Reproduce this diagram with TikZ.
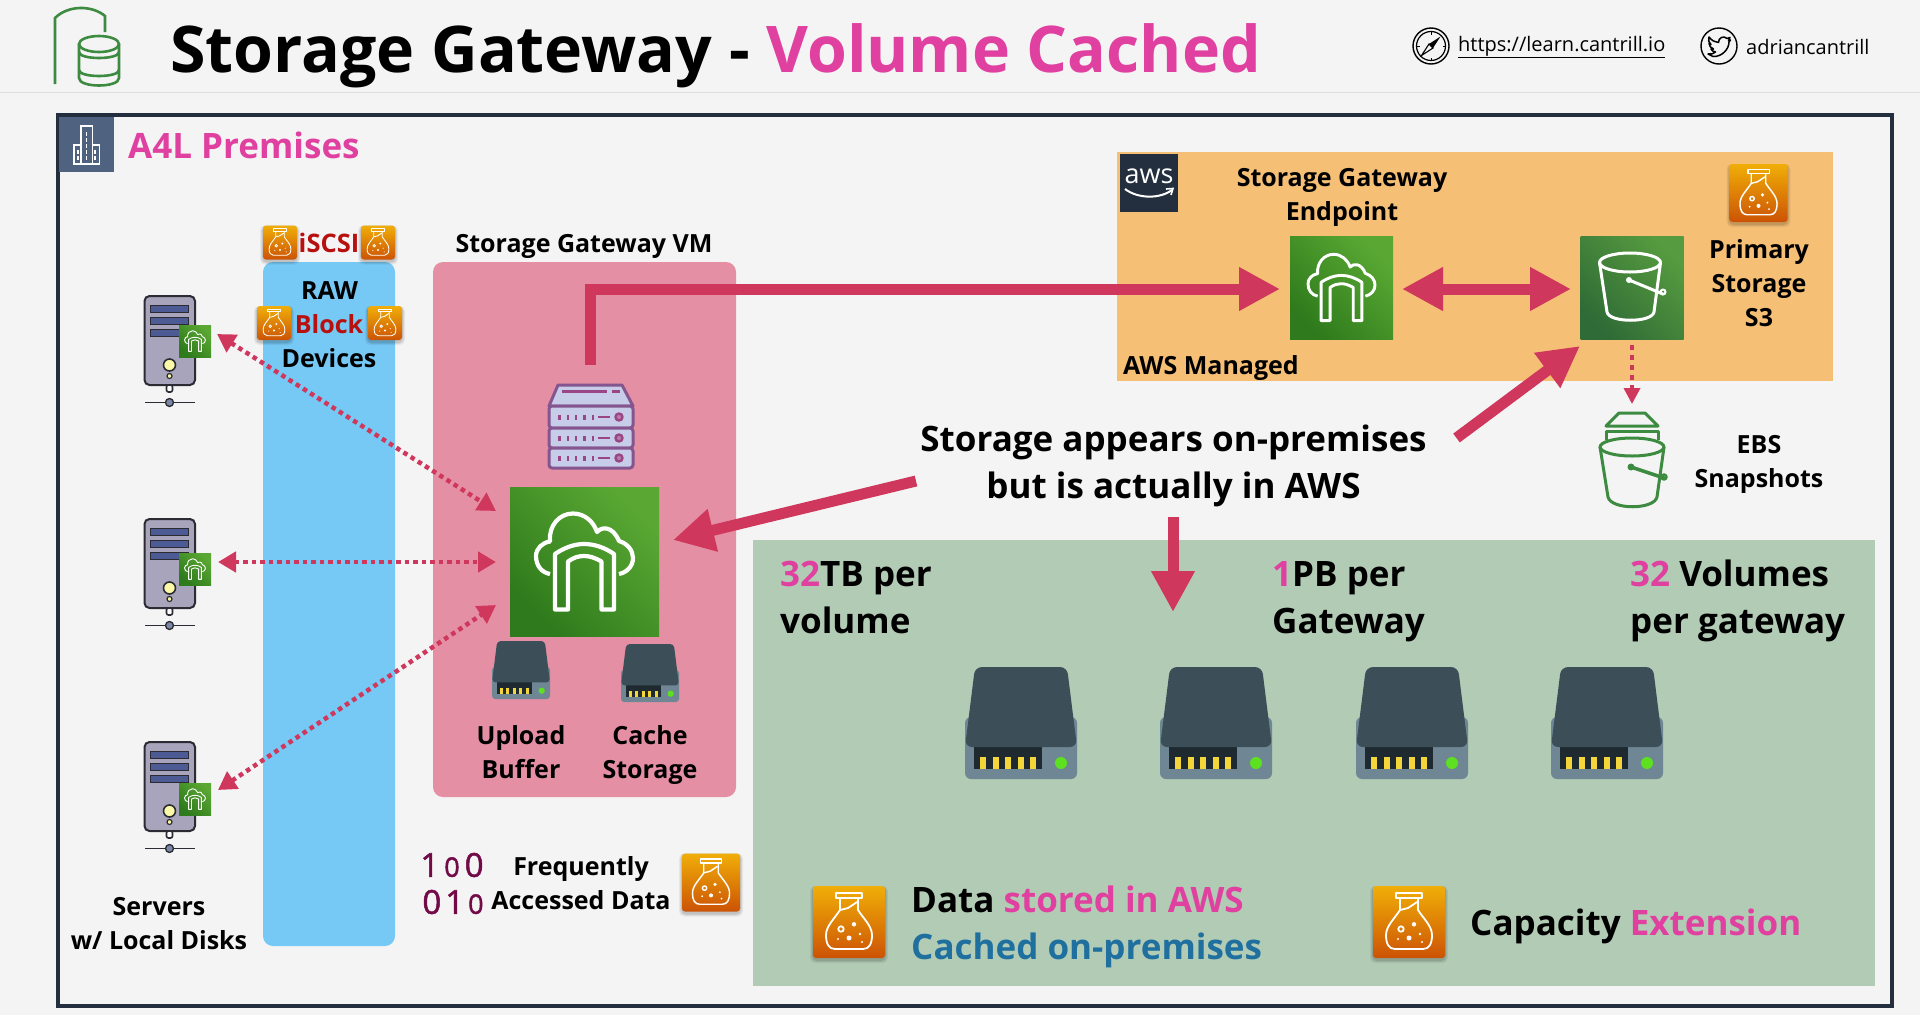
\documentclass[tikz,border=0pt]{standalone}
\usepackage{fontspec}
\setmainfont{Open Sans}
\newfontfamily\binfont[FakeBold=1.6]{Open Sans}
\usetikzlibrary{arrows.meta}
\definecolor{bgc}{HTML}{F4F4F4}
\definecolor{bldg}{HTML}{4F6380}
\definecolor{apink}{HTML}{E0409F}
\definecolor{ared}{HTML}{D0375C}
\definecolor{navy}{HTML}{232F3E}
\definecolor{ablue}{HTML}{76C8F5}
\definecolor{vmpink}{HTML}{E48FA4}
\definecolor{aorange}{HTML}{F5BF76}
\definecolor{sage}{HTML}{B2CBB5}
\definecolor{dred}{HTML}{B80F0F}
\definecolor{teal2}{HTML}{1F6F9F}
\definecolor{binc}{HTML}{730A48}
\definecolor{iconG}{HTML}{3D8B40}
\definecolor{purp}{HTML}{85558F}
\definecolor{purf}{HTML}{C7CDE9}
\definecolor{purl}{HTML}{9A4585}
\definecolor{dk}{HTML}{2B2B33}
\newcommand\pk[1]{\textcolor{apink}{#1}}
\newcommand\fsz[2]{\fontsize{#1}{#2}\selectfont}
\tikzset{
  panel/.style={inner sep=0pt,outer sep=0pt,anchor=north west},
  lbl/.style={font=\fsz{25}{34}\bfseries,align=center,inner sep=0pt,text=black},
  biglbl/.style={font=\fsz{35}{47}\bfseries,align=left,inner sep=0pt,text=black},
  heavy/.style={line width=11pt,color=ared,-{Triangle[length=41pt,width=41pt]}},
  heavytwo/.style={line width=11pt,color=ared,{Triangle[length=41pt,width=41pt]}-{Triangle[length=41pt,width=41pt]}},
  dots/.style={line width=4.5pt,color=ared,dash pattern=on 4.5pt off 4pt,{Triangle[length=18pt,width=20pt]}-{Triangle[length=18pt,width=20pt]}},
  dotone/.style={line width=3.5pt,color=ared,dash pattern=on 5pt off 5pt,-{Triangle[length=16pt,width=16pt]}},
  flasktile/.style={inner sep=0pt,outer sep=0pt,rounded corners=3pt,top color=FT,bottom color=FB},
  gwtile/.style={inner sep=0pt,outer sep=0pt,left color=GD,right color=GL,shading angle=135},
}
\definecolor{FT}{HTML}{F0AE08}
\definecolor{FB}{HTML}{CC5305}
\definecolor{GD}{HTML}{2E7A1C}
\definecolor{GL}{HTML}{5AA833}
\definecolor{SD}{HTML}{2F6B36}
\definecolor{SL}{HTML}{569B3F}
% flask tile: name,x,y,size
\newcommand\flaskicon[4]{%
  \pgfmathsetmacro\fk{#4/72}%
  \foreach \e/\o in {3/.05,2/.07,1/.09}{%
    \fill[black,opacity=\o,rounded corners=5pt] ({#2-#4/2-\e},{#3-#4/2}) rectangle ({#2+#4/2+\e},{#3+#4/2+\e+2});}
  \node[flasktile,minimum size=#4] (#1) at (#2,#3) {};
  \begin{scope}[shift={(#2,#3)},scale=\fk,line width=\fk*1.8pt,draw=white,fill=white,line join=round]
    \draw (-13.3,-29) rectangle (13.3,-24);
    \draw (-9,-24) -- (-9,-12) .. controls (-14,-4) and (-23,4) .. (-23,13) .. controls (-23,22) and (-20,27) .. (-14,27) -- (14,27) .. controls (20,27) and (23,22) .. (23,13) .. controls (23,4) and (14,-4) .. (9,-12) -- (9,-24);
    \draw (-9,-12) -- (-1,-14) -- (8,-20);
    \draw (-8,7) circle [radius=2.7];
    \fill (5,2.3) circle [radius=2.2];
    \fill (0,16) circle [radius=2.5];
    \fill (11,12) circle [radius=1.3];
    \fill (-11,17) circle [radius=1.2];
    \fill (13,20) circle [radius=1.2];
  \end{scope}}
% gateway tile: name,x,y,size
\newcommand\gwicon[4]{%
  \pgfmathsetmacro\gk{#4/149}%
  \node[gwtile,minimum size=#4] (#1) at (#2,#3) {};
  \begin{scope}[shift={(#2,#3)},scale=\gk,line width=\gk*4.2pt,draw=white,line join=round]
    \draw (-34.5,12.5) .. controls (-43,11) and (-48.5,4) .. (-48.5,-5.5) .. controls (-48.5,-13) and (-42,-19) .. (-34.5,-20)
      .. controls (-36,-36) and (-25,-48) .. (-11.5,-48) .. controls (0,-48) and (9,-40) .. (12.5,-29.5)
      .. controls (17,-35) and (28,-36) .. (34.5,-20.5) .. controls (43,-18) and (48.5,-11) .. (48.5,-3.5) .. controls (48.5,5) and (42,11) .. (34.5,12.5);
    \draw (-29.5,48) -- (-29.5,-7.5) .. controls (-20,-14) and (-10,-17.5) .. (-0.5,-17.5) .. controls (10,-17.5) and (20,-14) .. (29.5,-7.5) -- (29.5,48) -- (17,48) -- (17,0) .. controls (10,-4) and (5,-5.5) .. (-0.5,-5.5) .. controls (-6,-5.5) and (-11,-4) .. (-16.5,0) -- (-16.5,48) -- cycle;
  \end{scope}}
% disk: x0,y0,size
\newcommand\diskicon[3]{%
  \pgfmathsetmacro\dkk{#3/112}%
  \begin{scope}[shift={(#1,#2)},scale=\dkk]
    \fill[color=diskbase,rounded corners=\dkk*6pt] (0,50) rectangle (112,112);
    \fill[color=diskslot] (9,75) rectangle (77,102);
    \fill[color=disktop,rounded corners=\dkk*7pt] (10,0) -- (102,0) -- (112,80) -- (0,80) -- cycle;
    \foreach \p in {15,27.5,40,52.5,65}{\fill[color=diskpin] (\p,90) rectangle ({\p+6},102);}
    \fill[color=diskled] (96,96) circle [radius=6];
  \end{scope}}
\definecolor{diskbase}{HTML}{6F8694}
\definecolor{diskslot}{HTML}{1F2A30}
\definecolor{disktop}{HTML}{3C4F58}
\definecolor{diskpin}{HTML}{F5D63A}
\definecolor{diskled}{HTML}{5DE01F}
% server: top y, badge centre y
\newcommand\servericon[3]{%
  \begin{scope}[shift={(0,#2)},draw=dk]
    \draw[line width=2pt,fill=srvbody,rounded corners=5pt] (144.5,0) rectangle (195,89);
    \foreach \b in {9,21,33}{\draw[line width=1pt,fill=srvbar] (150,\b) rectangle (188,{\b+7});}
    \draw[line width=1.6pt,fill=srvled] (169.5,69) circle [radius=6];
    \draw[line width=1.2pt,fill=srvled] (169.5,80) circle [radius=2.5];
    \draw[line width=1.6pt,fill=white,rounded corners=2pt] (166.5,89) rectangle (172.5,96);
    \draw[line width=1pt] (145,106.5) -- (195,106.5);
    \draw[line width=1.3pt,fill=srvdot] (169.5,106.5) circle [radius=4];
  \end{scope}
  \gwicon{#1}{195}{#3}{32}}
\definecolor{srvbody}{HTML}{A8A4BB}
\definecolor{srvbar}{HTML}{4D5B94}
\definecolor{srvled}{HTML}{FBF8A8}
\definecolor{srvdot}{HTML}{7C86A6}
\begin{document}
\begin{tikzpicture}[x=1pt,y=-1pt]
\useasboundingbox (0,0) rectangle (1920,1015);
\fill[bgc] (0,0) rectangle (1920,1015);
\draw[color=black!13,line width=1pt] (0,92.5) -- (1920,92.5);
% header icon
\begin{scope}[draw=iconG,line width=2.6pt]
  \draw (55,84) -- (55,18) .. controls (68,5) and (92,5) .. (105,16) -- (105,32);
  \draw (79,44) -- (79,78) .. controls (79,88) and (119,88) .. (119,78) -- (119,44);
  \draw (99,44) ellipse [x radius=20,y radius=8];
  \draw (79,52) .. controls (79,60) and (119,60) .. (119,52);
  \draw (79,70) .. controls (79,78) and (119,78) .. (119,70);
\end{scope}
\node[anchor=base west,inner sep=0pt,font=\fsz{64.4}{70}\bfseries] (title) at (170,72) {Storage Gateway - \pk{Volume Cached}};
% compass
\begin{scope}[shift={(1431,46)},draw=black]
  \draw[line width=1.4pt] (0,0) circle [radius=18];
  \draw[line width=1.2pt] (0,0) circle [radius=14.5];
  \fill[black] (9.5,-9.5) -- (2,2) -- (-2,-2) -- cycle;
  \draw[line width=1.1pt,fill=bgc] (-9.5,9.5) -- (2,2) -- (-2,-2) -- cycle;
  \foreach \a/\b/\c/\d in {0/-14/0/-11.5,0/14/0/11.5,-14/0/-11.5/0,14/0/11.5/0}{\draw[line width=1pt] (\a,\b) -- (\c,\d);}
\end{scope}
\node[anchor=west,inner sep=0pt,font=\fsz{20}{24}] (url) at (1458,47) {\underline{https://learn.cantrill.io}};
\begin{scope}[shift={(1719,46)},draw=black]
  \draw[line width=1.4pt] (0,0) circle [radius=18];
  \draw[line width=1.5pt,line join=round] (-10,-9) .. controls (-7,-5) and (-4,-4) .. (-0.5,-3.5) .. controls (-1,-8) and (5,-11) .. (8,-7.5) -- (11,-8.5) -- (9.5,-5.5) -- (11.5,-6) -- (10,-4) .. controls (10,3) and (3,11) .. (-6,10.5) -- (-11,8) .. controls (-8,8.5) and (-5,7.5) .. (-3.5,6) .. controls (-6,5.5) and (-7.5,4.5) .. (-8,3) -- (-5.5,3) .. controls (-8,2) and (-10,0) .. (-10,-2.5) -- (-8,-1.5) .. controls (-10.5,-3.5) and (-11,-6) .. (-10,-9) -- cycle;
\end{scope}
\node[anchor=west,inner sep=0pt,font=\fsz{20}{24}] (handle) at (1746,47) {adriancantrill};
% premises frame
\node[panel,draw=navy,line width=4pt,minimum width=1834.5,minimum height=891.5] (prem) at (57.5,114.5) {};
\node[panel,fill=bldg,minimum size=55] (bldgtile) at (59,117) {};
\begin{scope}[draw=white,line width=1.5pt]
  \draw (74,164) rectangle (99.3,145);
  \draw[fill=bldg] (81,164) -- (81,126) -- (92.3,126) -- (92.3,164);
  \draw (74,164) -- (99.3,164);
  \foreach \wx/\wy in {78/150,86.7/132,95/150}{\draw[line width=1.2pt,dash pattern=on 3.5pt off 2.5pt] (\wx,\wy) -- (\wx,161);}
\end{scope}
\node[anchor=west,inner sep=0pt,font=\fsz{35}{40}\bfseries,text=apink] (a4l) at (128,145) {A4L Premises};
% panels
\node[panel,fill=ablue,rounded corners=10pt,minimum width=132,minimum height=684] (blue) at (263,262) {};
\node[panel,fill=vmpink,rounded corners=10pt,minimum width=303,minimum height=535] (vm) at (433,262) {};
\node[panel,fill=aorange,minimum width=716,minimum height=229] (aws) at (1117,152) {};
\node[panel,fill=sage,minimum width=1122,minimum height=446] (sagebox) at (753,540) {};
% iSCSI
\flaskicon{fa}{280}{242.5}{34}
\flaskicon{fb}{378}{242.5}{34}
\node[lbl,font=\fsz{25.5}{34}\bfseries,text=dred] (iscsi) at (329,243) {iSCSI};
\node[lbl] (raw) at (329.5,290.5) {RAW};
\node[lbl,text=dred] (block) at (329,324) {Block};
\node[lbl] (dev) at (329,358) {Devices};
\flaskicon{fc}{274}{323}{34}
\flaskicon{fd}{385}{323}{34}
\node[lbl] (vmlbl) at (584,246.5) {Storage Gateway VM};
% servers
\servericon{b1}{296}{341}
\servericon{b2}{519}{569}
\servericon{b3}{742}{799}
\node[lbl] (srvl) at (159,924) {Servers\\w/ Local Disks};
% VM contents
\begin{scope}[draw=purp,line width=3pt,line join=round]
  \draw[fill=purf] (549,406) -- (558,385) -- (622,385) -- (633,406) -- cycle;
  \foreach \u/\v in {406/428,428/448,448/468}{
    \draw[fill=purf,rounded corners=3pt] (549,\u) rectangle (633,\v);
    \foreach \t in {559.3,567.7,576,584.3,592.7}{\draw[color=purl,line width=2.4pt] (\t,{(\u+\v)/2-2.5}) -- (\t,{(\u+\v)/2+2.5});}
    \draw[color=purl,line width=2.4pt] (597.7,{(\u+\v)/2}) -- (610,{(\u+\v)/2});
    \draw[color=purl,line width=2.4pt,fill=purl!70!white] (619,{(\u+\v)/2}) circle [radius=3.5];
  }
  \draw[color=purl,line width=2.4pt] (561.7,391.5) -- (606.7,391.5) (611.7,391.5) -- (620,391.5);
\end{scope}
\gwicon{gw}{584.5}{561.5}{149}
\diskicon{492}{641}{58}
\diskicon{621}{644}{58}
\node[lbl] (ub) at (521,752.5) {Upload\\Buffer};
\node[lbl] (cs) at (650,755) {Cache\\Storage};
% frequently accessed
\node[anchor=center,inner sep=0pt,font=\fsz{33}{36}\binfont,text=binc] (bin1) at (452,865) {1\hspace{5pt}\fsz{27}{36}0\hspace{5pt}\fsz{33}{36}0};
\node[anchor=center,inner sep=0pt,font=\fsz{33}{36}\binfont,text=binc] (bin2) at (453,902) {0\hspace{4pt}1\hspace{4pt}\fsz{27}{36}0};
\node[lbl] (freq) at (581,883) {Frequently\\Accessed Data};
\flaskicon{fe}{711}{882.5}{58}
% AWS
\node[panel,fill=navy,minimum size=58] (awslogo) at (1120,154) {};
\node[inner sep=0pt,font=\fsz{27}{30},text=white] (awstxt) at (1149,176) {aws};
\draw[white,line width=2pt] (1125,189) .. controls (1138,199) and (1160,199) .. (1172,190);
\draw[white,line width=1.6pt] (1166,189) -- (1173,188.5) -- (1171,195);
\node[lbl] (eplbl) at (1342,197.5) {Storage Gateway\\Endpoint};
\gwicon{ep}{1341.5}{287.5}{103}
\node[inner sep=0pt,outer sep=0pt,top color=SD,bottom color=SL,shading angle=135,minimum size=103] (s3) at (1632,287.5) {};
\begin{scope}[draw=white,line width=3pt,line join=round]
  \draw (1630,262.5) ellipse [x radius=30.5,y radius=9.5];
  \draw (1599.5,262.5) -- (1607,312) .. controls (1609,323) and (1652,323) .. (1654,312) -- (1660.5,262.5);
  \draw[line cap=round,line width=3pt] (1629,280) -- (1663,294);
  \fill[white] (1629,280) circle [radius=3];
  \draw[line width=2pt] (1663,292) circle [radius=2.5];
\end{scope}
\flaskicon{ff}{1758.5}{193}{58}
\node[lbl] (prim) at (1759,283) {Primary\\Storage\\S3};
\node[lbl,anchor=west] (mgd) at (1123,367.5) {AWS Managed};
% EBS bucket
\begin{scope}[draw=iconG,line width=3pt,line join=round]
  \draw (1606,426) -- (1619,413) -- (1645,413) -- (1658,426) -- cycle;
  \draw (1606,440) -- (1606,431) -- (1658,431) -- (1658,440);
  \draw (1632,447) ellipse [x radius=32,y radius=9];
  \draw (1600,447) -- (1608,497) .. controls (1611,510) and (1654,510) .. (1657,497) -- (1664,447);
  \draw[line cap=round,line width=3.5pt] (1631,467) -- (1664,478);
  \fill[iconG] (1631,467) circle [radius=3.5];
  \draw[line width=2.5pt] (1664,477) circle [radius=2.5];
\end{scope}
\node[lbl] (ebs) at (1759,464.5) {EBS\\Snapshots};
% main text
\node[biglbl,align=center] (note) at (1173.5,465.5) {Storage appears on-premises\\but is actually in AWS};
\node[biglbl,anchor=west] (t32) at (780,597.5) {\pk{32}TB per\\volume};
\node[biglbl,anchor=west] (t1p) at (1272,601.5) {\pk{1}PB per\\Gateway};
\node[biglbl,anchor=west] (tvol) at (1630,600.5) {\pk{32} Volumes\\per gateway};
\diskicon{965}{667}{112}
\diskicon{1160}{667}{112}
\diskicon{1356}{667}{112}
\diskicon{1551}{667}{112}
\flaskicon{fg}{849}{922}{72}
\flaskicon{fh}{1409}{922}{72}
\node[biglbl,anchor=west] (d1) at (911,926.5) {Data \pk{stored in AWS}\\\textcolor{teal2}{Cached on-premises}};
\node[biglbl,anchor=west] (d2) at (1470,926.5) {Capacity \pk{Extension}};
% connectors
\coordinate (vmout) at (590,365);
\coordinate (epin) at (1280,289);
\coordinate (epout) at (1402,289);
\coordinate (s3in) at (1571,289);
\coordinate (noteR) at (1456.5,438);
\coordinate (s3low) at (1580,346);
\coordinate (noteL) at (916,481);
\coordinate (gwE) at (673,540);
\coordinate (noteD) at (1173,517);
\coordinate (sageT) at (1173,612);
\coordinate (s3D) at (1632,345);
\coordinate (ebsT) at (1632,404);
\coordinate (s1p) at (217,334);
\coordinate (g1p) at (496,511);
\coordinate (s2p) at (218,562);
\coordinate (g2p) at (496,562);
\coordinate (s3p) at (218,790);
\coordinate (g3p) at (496,605);
\draw[heavy] (vmout) |- (epin);
\draw[heavytwo] (epout) -- (s3in);
\draw[heavy] (noteR) -- (s3low);
\draw[heavy] (noteL) -- (gwE);
\draw[heavy] (noteD) -- (sageT);
\draw[dotone] (s3D) -- (ebsT);
\draw[dots] (s1p) -- (g1p);
\draw[dots] (s2p) -- (g2p);
\draw[dots] (s3p) -- (g3p);
\end{tikzpicture}
\end{document}
